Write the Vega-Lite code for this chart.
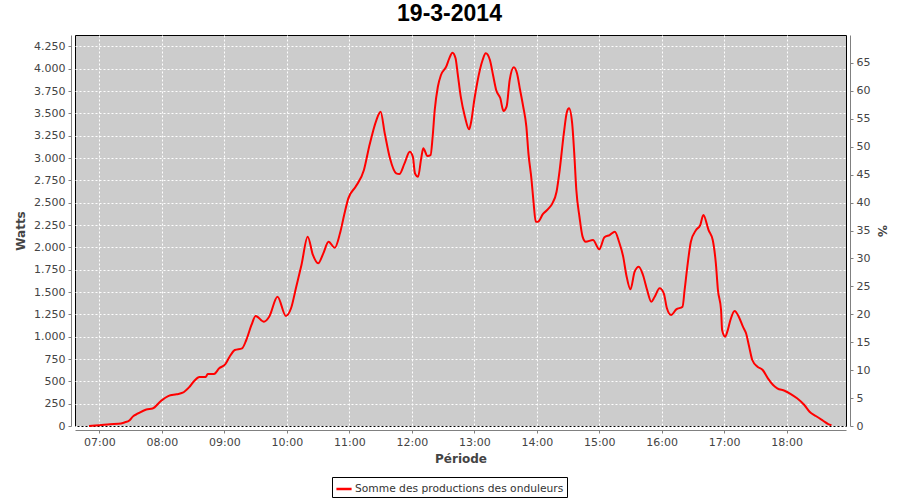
{
  "$schema": "https://vega.github.io/schema/vega-lite/v6.json",
  "autosize": "none",
  "width": 771,
  "height": 391,
  "padding": {"left": 75, "top": 35, "right": 54, "bottom": 74},
  "background": "white",
  "title": {"text": "19-3-2014", "font": "Liberation Sans", "fontSize": 23, "fontWeight": "bold", "color": "black", "anchor": "middle", "dx": -11, "offset": 6},
  "layer": [
    {
      "data": {"values": [
      {"t": "2014-03-19T06:50Z", "w": 0},
      {"t": "2014-03-19T07:00Z", "w": 8},
      {"t": "2014-03-19T07:10Z", "w": 20},
      {"t": "2014-03-19T07:18Z", "w": 24},
      {"t": "2014-03-19T07:24Z", "w": 40},
      {"t": "2014-03-19T07:29Z", "w": 65},
      {"t": "2014-03-19T07:32Z", "w": 105},
      {"t": "2014-03-19T07:37Z", "w": 140},
      {"t": "2014-03-19T07:45Z", "w": 185},
      {"t": "2014-03-19T07:51Z", "w": 195},
      {"t": "2014-03-19T07:59Z", "w": 280},
      {"t": "2014-03-19T08:06Z", "w": 335},
      {"t": "2014-03-19T08:14Z", "w": 355},
      {"t": "2014-03-19T08:20Z", "w": 373},
      {"t": "2014-03-19T08:26Z", "w": 433},
      {"t": "2014-03-19T08:31Z", "w": 504},
      {"t": "2014-03-19T08:36Z", "w": 548},
      {"t": "2014-03-19T08:42Z", "w": 548},
      {"t": "2014-03-19T08:44Z", "w": 582},
      {"t": "2014-03-19T08:50Z", "w": 583},
      {"t": "2014-03-19T08:55Z", "w": 646},
      {"t": "2014-03-19T09:01Z", "w": 694},
      {"t": "2014-03-19T09:05Z", "w": 776},
      {"t": "2014-03-19T09:10Z", "w": 851},
      {"t": "2014-03-19T09:17Z", "w": 870},
      {"t": "2014-03-19T09:21Z", "w": 963},
      {"t": "2014-03-19T09:26Z", "w": 1131},
      {"t": "2014-03-19T09:30Z", "w": 1232},
      {"t": "2014-03-19T09:38Z", "w": 1168},
      {"t": "2014-03-19T09:43Z", "w": 1224},
      {"t": "2014-03-19T09:51Z", "w": 1448},
      {"t": "2014-03-19T09:59Z", "w": 1232},
      {"t": "2014-03-19T10:04Z", "w": 1318},
      {"t": "2014-03-19T10:09Z", "w": 1560},
      {"t": "2014-03-19T10:14Z", "w": 1803},
      {"t": "2014-03-19T10:20Z", "w": 2120},
      {"t": "2014-03-19T10:25Z", "w": 1915},
      {"t": "2014-03-19T10:30Z", "w": 1821},
      {"t": "2014-03-19T10:35Z", "w": 1933},
      {"t": "2014-03-19T10:40Z", "w": 2063},
      {"t": "2014-03-19T10:46Z", "w": 1996},
      {"t": "2014-03-19T10:51Z", "w": 2157},
      {"t": "2014-03-19T10:55Z", "w": 2362},
      {"t": "2014-03-19T10:59Z", "w": 2549},
      {"t": "2014-03-19T11:06Z", "w": 2679},
      {"t": "2014-03-19T11:14Z", "w": 2866},
      {"t": "2014-03-19T11:19Z", "w": 3127},
      {"t": "2014-03-19T11:26Z", "w": 3426},
      {"t": "2014-03-19T11:30Z", "w": 3519},
      {"t": "2014-03-19T11:34Z", "w": 3277},
      {"t": "2014-03-19T11:39Z", "w": 2997},
      {"t": "2014-03-19T11:45Z", "w": 2829},
      {"t": "2014-03-19T11:48Z", "w": 2821},
      {"t": "2014-03-19T11:53Z", "w": 2941},
      {"t": "2014-03-19T11:58Z", "w": 3071},
      {"t": "2014-03-19T12:01Z", "w": 3015},
      {"t": "2014-03-19T12:03Z", "w": 2829},
      {"t": "2014-03-19T12:06Z", "w": 2791},
      {"t": "2014-03-19T12:09Z", "w": 2997},
      {"t": "2014-03-19T12:11Z", "w": 3109},
      {"t": "2014-03-19T12:15Z", "w": 3023},
      {"t": "2014-03-19T12:18Z", "w": 3034},
      {"t": "2014-03-19T12:20Z", "w": 3239},
      {"t": "2014-03-19T12:22Z", "w": 3538},
      {"t": "2014-03-19T12:25Z", "w": 3799},
      {"t": "2014-03-19T12:28Z", "w": 3930},
      {"t": "2014-03-19T12:33Z", "w": 4023},
      {"t": "2014-03-19T12:36Z", "w": 4117},
      {"t": "2014-03-19T12:39Z", "w": 4180},
      {"t": "2014-03-19T12:42Z", "w": 4117},
      {"t": "2014-03-19T12:44Z", "w": 3949},
      {"t": "2014-03-19T12:47Z", "w": 3687},
      {"t": "2014-03-19T12:51Z", "w": 3463},
      {"t": "2014-03-19T12:55Z", "w": 3322},
      {"t": "2014-03-19T12:57Z", "w": 3407},
      {"t": "2014-03-19T13:00Z", "w": 3650},
      {"t": "2014-03-19T13:03Z", "w": 3855},
      {"t": "2014-03-19T13:08Z", "w": 4098},
      {"t": "2014-03-19T13:11Z", "w": 4173},
      {"t": "2014-03-19T13:15Z", "w": 4098},
      {"t": "2014-03-19T13:18Z", "w": 3930},
      {"t": "2014-03-19T13:21Z", "w": 3762},
      {"t": "2014-03-19T13:25Z", "w": 3669},
      {"t": "2014-03-19T13:28Z", "w": 3527},
      {"t": "2014-03-19T13:31Z", "w": 3575},
      {"t": "2014-03-19T13:34Z", "w": 3874},
      {"t": "2014-03-19T13:38Z", "w": 4016},
      {"t": "2014-03-19T13:41Z", "w": 3949},
      {"t": "2014-03-19T13:44Z", "w": 3762},
      {"t": "2014-03-19T13:47Z", "w": 3575},
      {"t": "2014-03-19T13:50Z", "w": 3351},
      {"t": "2014-03-19T13:52Z", "w": 3053},
      {"t": "2014-03-19T13:55Z", "w": 2754},
      {"t": "2014-03-19T13:57Z", "w": 2493},
      {"t": "2014-03-19T13:59Z", "w": 2287},
      {"t": "2014-03-19T14:01Z", "w": 2287},
      {"t": "2014-03-19T14:06Z", "w": 2374},
      {"t": "2014-03-19T14:11Z", "w": 2430},
      {"t": "2014-03-19T14:15Z", "w": 2493},
      {"t": "2014-03-19T14:19Z", "w": 2623},
      {"t": "2014-03-19T14:22Z", "w": 2866},
      {"t": "2014-03-19T14:26Z", "w": 3277},
      {"t": "2014-03-19T14:29Z", "w": 3519},
      {"t": "2014-03-19T14:31Z", "w": 3557},
      {"t": "2014-03-19T14:34Z", "w": 3389},
      {"t": "2014-03-19T14:36Z", "w": 3053},
      {"t": "2014-03-19T14:38Z", "w": 2642},
      {"t": "2014-03-19T14:41Z", "w": 2343},
      {"t": "2014-03-19T14:44Z", "w": 2120},
      {"t": "2014-03-19T14:47Z", "w": 2063},
      {"t": "2014-03-19T14:54Z", "w": 2082},
      {"t": "2014-03-19T15:00Z", "w": 1978},
      {"t": "2014-03-19T15:05Z", "w": 2113},
      {"t": "2014-03-19T15:10Z", "w": 2138},
      {"t": "2014-03-19T15:15Z", "w": 2175},
      {"t": "2014-03-19T15:19Z", "w": 2063},
      {"t": "2014-03-19T15:23Z", "w": 1896},
      {"t": "2014-03-19T15:26Z", "w": 1691},
      {"t": "2014-03-19T15:30Z", "w": 1530},
      {"t": "2014-03-19T15:34Z", "w": 1728},
      {"t": "2014-03-19T15:38Z", "w": 1784},
      {"t": "2014-03-19T15:42Z", "w": 1691},
      {"t": "2014-03-19T15:46Z", "w": 1523},
      {"t": "2014-03-19T15:50Z", "w": 1392},
      {"t": "2014-03-19T15:53Z", "w": 1441},
      {"t": "2014-03-19T15:58Z", "w": 1542},
      {"t": "2014-03-19T16:02Z", "w": 1486},
      {"t": "2014-03-19T16:05Z", "w": 1318},
      {"t": "2014-03-19T16:09Z", "w": 1243},
      {"t": "2014-03-19T16:14Z", "w": 1306},
      {"t": "2014-03-19T16:20Z", "w": 1336},
      {"t": "2014-03-19T16:22Z", "w": 1523},
      {"t": "2014-03-19T16:25Z", "w": 1821},
      {"t": "2014-03-19T16:28Z", "w": 2063},
      {"t": "2014-03-19T16:33Z", "w": 2194},
      {"t": "2014-03-19T16:37Z", "w": 2250},
      {"t": "2014-03-19T16:40Z", "w": 2362},
      {"t": "2014-03-19T16:45Z", "w": 2194},
      {"t": "2014-03-19T16:49Z", "w": 2082},
      {"t": "2014-03-19T16:52Z", "w": 1821},
      {"t": "2014-03-19T16:54Z", "w": 1523},
      {"t": "2014-03-19T16:57Z", "w": 1299},
      {"t": "2014-03-19T16:58Z", "w": 1075},
      {"t": "2014-03-19T17:01Z", "w": 1000},
      {"t": "2014-03-19T17:03Z", "w": 1056},
      {"t": "2014-03-19T17:06Z", "w": 1187},
      {"t": "2014-03-19T17:10Z", "w": 1288},
      {"t": "2014-03-19T17:14Z", "w": 1224},
      {"t": "2014-03-19T17:18Z", "w": 1112},
      {"t": "2014-03-19T17:21Z", "w": 1038},
      {"t": "2014-03-19T17:24Z", "w": 888},
      {"t": "2014-03-19T17:27Z", "w": 739},
      {"t": "2014-03-19T17:32Z", "w": 664},
      {"t": "2014-03-19T17:37Z", "w": 627},
      {"t": "2014-03-19T17:42Z", "w": 534},
      {"t": "2014-03-19T17:47Z", "w": 459},
      {"t": "2014-03-19T17:51Z", "w": 422},
      {"t": "2014-03-19T17:58Z", "w": 395},
      {"t": "2014-03-19T18:04Z", "w": 358},
      {"t": "2014-03-19T18:10Z", "w": 310},
      {"t": "2014-03-19T18:17Z", "w": 235},
      {"t": "2014-03-19T18:22Z", "w": 160},
      {"t": "2014-03-19T18:28Z", "w": 112},
      {"t": "2014-03-19T18:35Z", "w": 59},
      {"t": "2014-03-19T18:40Z", "w": 22},
      {"t": "2014-03-19T18:43Z", "w": 8}
      ]},
      "mark": {"type": "line", "strokeWidth": 2, "interpolate": "monotone"},
      "encoding": {
        "x": {
          "field": "t", "type": "temporal", "title": "Période",
          "scale": {"type": "utc", "domain": [1395210990000, 1395255420000]},
          "axis": {"labelExpr": "utcFormat(datum.value, '%H:%M')", "values": [1395212400000, 1395216000000, 1395219600000, 1395223200000, 1395226800000, 1395230400000, 1395234000000, 1395237600000, 1395241200000, 1395244800000, 1395248400000, 1395252000000], "offset": 4, "tickSize": 3, "labelPadding": 3, "titlePadding": 6}
        },
        "y": {
          "field": "w", "type": "quantitative", "title": "Watts",
          "scale": {"domain": [0, 4378], "nice": false},
          "axis": {"values": [0, 250, 500, 750, 1000, 1250, 1500, 1750, 2000, 2250, 2500, 2750, 3000, 3250, 3500, 3750, 4000, 4250], "labelExpr": "replace(format(datum.value, ','), ',', '.')", "offset": 4, "tickSize": 3, "labelPadding": 3, "titlePadding": 6}
        },
        "color": {
          "datum": "Somme des productions des onduleurs", "type": "nominal",
          "scale": {"range": ["#ff0000"]},
          "legend": {"title": null, "orient": "none", "legendX": 257, "legendY": 442, "strokeColor": "black", "fillColor": "white", "padding": 3, "symbolType": "stroke", "symbolSize": 230, "symbolStrokeWidth": 2.5, "labelFont": "DejaVu Sans", "labelFontSize": 10.7, "labelColor": "#333333", "labelOffset": 2, "labelLimit": 0}
        }
      }
    },
    {
      "data": {"values": [{"p": 0}, {"p": 70}]},
      "mark": {"type": "point", "opacity": 0},
      "encoding": {
        "y": {
          "field": "p", "type": "quantitative", "title": "%",
          "scale": {"domain": [0, 70], "nice": false},
          "axis": {"orient": "right", "values": [0, 5, 10, 15, 20, 25, 30, 35, 40, 45, 50, 55, 60, 65], "grid": false, "offset": 4, "tickSize": 3, "labelPadding": 3, "titlePadding": 5}
        }
      }
    }
  ],
  "resolve": {"scale": {"y": "independent"}},
  "config": {
    "view": {"stroke": "black", "strokeWidth": 1, "fill": "#cccccc"},
    "axis": {
      "labelFont": "DejaVu Sans", "labelFontSize": 11, "labelColor": "#444444",
      "titleFont": "DejaVu Sans", "titleFontSize": 12, "titleFontWeight": "bold", "titleColor": "#444444",
      "domainColor": "#808080", "tickColor": "#808080",
      "grid": true, "gridColor": "white", "gridDash": [2, 2]
    }
  }
}
